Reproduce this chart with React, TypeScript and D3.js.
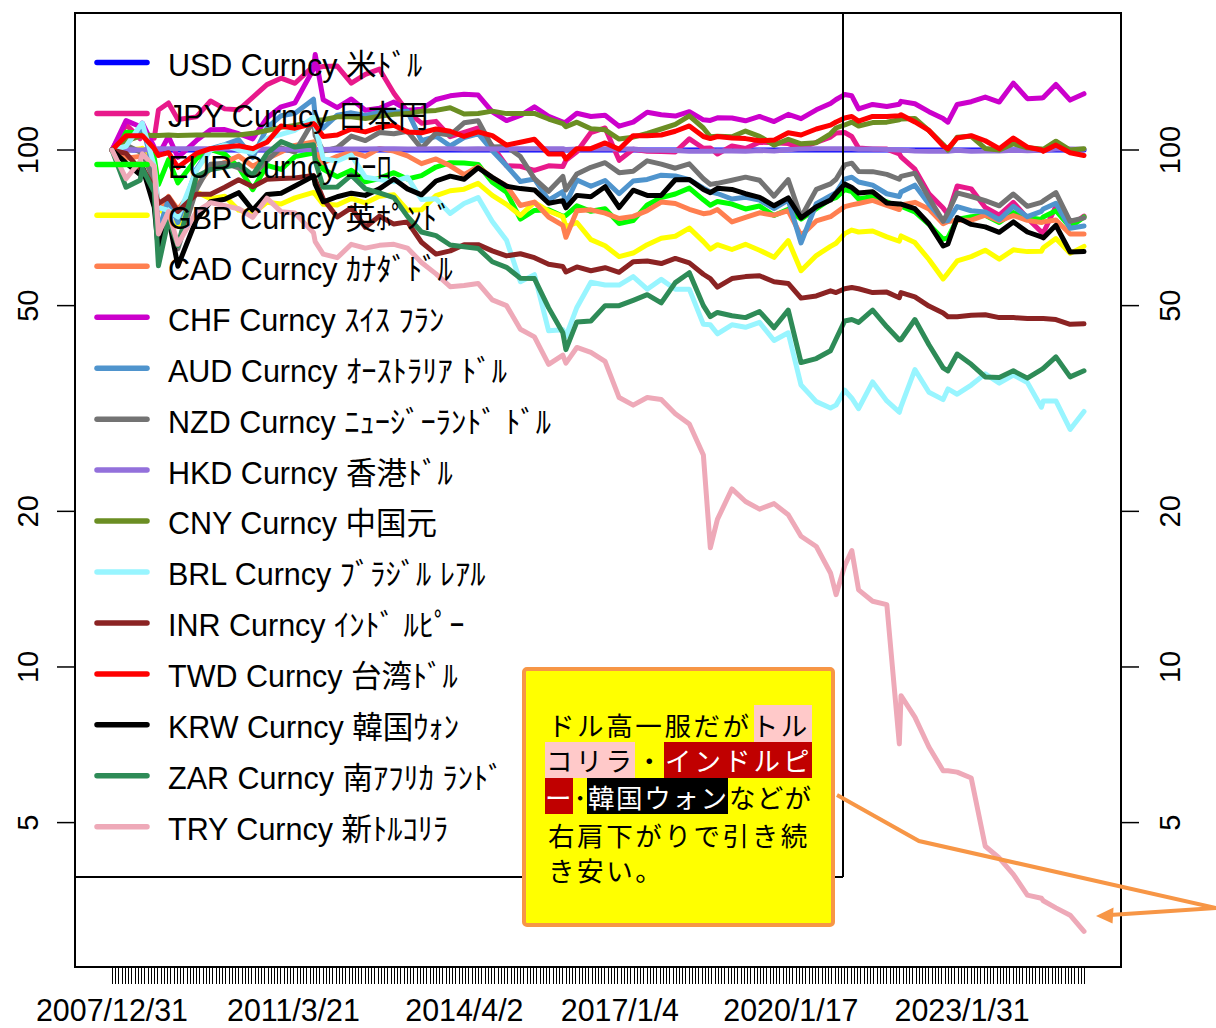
import React from "react";
import * as d3 from "d3";

const dates = [
  "2007-12-31","2008-03-31","2008-06-30","2008-07-15","2008-09-30","2008-10-27","2008-12-31","2009-03-02","2009-06-30","2009-09-30",
  "2009-12-31","2010-03-31","2010-06-30","2010-09-30","2010-12-31","2011-03-31","2011-07-29","2011-08-09","2011-09-30","2011-12-30",
  "2012-03-30","2012-06-29","2012-09-28","2012-12-31","2013-03-29","2013-06-28","2013-09-30","2013-12-31","2014-03-31","2014-06-30",
  "2014-09-30","2014-12-31","2015-03-31","2015-06-30","2015-09-30","2015-12-31","2016-01-20","2016-03-31","2016-06-30","2016-09-30",
  "2016-12-30","2017-03-31","2017-06-30","2017-09-29","2017-12-29","2018-03-30","2018-06-29","2018-08-13","2018-09-28","2018-12-31",
  "2019-03-29","2019-06-28","2019-09-30","2019-12-31","2020-03-23","2020-06-30","2020-09-30","2020-11-05","2020-12-31","2021-02-15",
  "2021-03-31","2021-06-30","2021-09-30","2021-12-20","2021-12-31","2022-03-31","2022-06-30","2022-09-30","2022-10-31","2022-12-30",
  "2023-03-31","2023-06-30","2023-09-29","2023-12-29","2024-03-29","2024-06-28","2024-07-10","2024-09-30","2024-12-31","2025-03-31"
];

const usd = [
  100,100,100,100,100,100,100,100,100,100,
  100,100,100,100,100,100,100,100,100,100,
  100,100,100,100,100,100,100,100,100,100,
  100,100,100,100,100,100,100,100,100,100,
  100,100,100,100,100,100,100,100,100,100,
  100,100,100,100,100,100,100,100,100,100,
  100,100,100,100,100,100,100,100,100,100,
  100,100,100,100,100,100,100,100,100,100
];
const jpy = [
  100,112.0,105.2,106.9,105.4,119.5,123.3,114.6,115.9,124.4,
  120.1,119.6,126.4,133.8,137.7,134.6,145.4,144.3,145.1,145.3,
  134.7,140.0,143.4,128.8,118.6,112.7,113.6,106.1,108.2,110.3,
  101.8,93.2,93.0,91.3,93.2,92.9,95.5,99.2,108.1,110.3,
  95.5,100.3,99.4,99.3,99.1,105.1,100.8,100.9,98.2,101.8,
  100.7,103.5,103.3,102.9,100.8,103.5,105.9,107.9,108.1,106.2,
  100.9,100.5,100.4,98.3,97.0,91.8,82.3,77.2,75.1,85.2,
  84.1,77.4,74.8,79.2,73.8,69.4,69.1,77.8,71.1,74.5
];
const eur = [
  100,108.2,108.0,109.3,96.6,85.7,95.8,86.4,96.2,100.3,
  98.2,92.6,83.8,93.4,91.7,97.1,98.6,98.0,91.8,88.8,
  91.4,86.8,88.1,90.4,87.9,89.2,92.7,94.5,94.4,93.8,
  86.6,82.9,73.5,76.4,76.6,74.4,74.7,78.0,76.1,77.0,
  72.1,73.0,78.3,80.9,82.2,84.4,80.1,78.2,79.5,78.6,
  76.9,77.9,74.7,76.8,73.5,77.0,80.3,80.9,83.8,83.1,
  80.4,81.3,79.4,77.3,77.9,75.9,71.8,67.2,67.7,73.4,
  74.3,74.8,72.4,75.7,74.0,73.4,74.2,76.3,70.9,74.2
];
const gbp = [
  100,100,100.4,100.8,89.7,77.6,73.5,71.5,82.9,80.5,
  81.4,76.5,75.3,79.2,78.6,80.8,82.8,82.1,78.5,78.3,
  80.6,79.0,81.4,81.9,76.5,76.6,81.6,83.4,84.0,86.2,
  81.7,78.5,74.7,79.2,76.2,74.3,71.0,72.4,67.1,65.3,
  62.2,63.2,65.6,67.5,68.1,70.6,66.5,64.3,65.6,64.2,
  65.7,64.0,62.0,66.8,58.4,62.5,65.1,66.0,68.9,70.0,
  69.4,69.7,67.9,66.6,68.2,66.2,61.4,56.3,57.8,61.0,
  62.2,64.0,61.5,64.1,63.6,63.7,64.7,67.4,63.1,65.1
];
const cad = [
  100,96.4,97.2,98.5,93.0,76.7,81.3,76.7,85.1,92.4,
  94.6,97.4,93.0,96.2,99.1,102.1,103.7,100.0,94.5,97.2,
  99.2,97.2,100.7,99.5,97.4,94.1,96.1,93.2,89.6,92.8,
  88.4,85.3,78.1,79.3,74.2,71.5,67.8,76.3,76.6,75.5,
  73.7,74.4,76.3,79.3,78.8,76.8,75.3,75.6,76.7,72.6,
  74.1,75.6,74.8,76.3,68.3,72.9,74.3,75.6,77.7,78.3,
  78.8,79.9,78.1,76.7,78.3,79.2,76.9,72.0,72.7,73.1,
  73.2,74.8,72.9,74.7,73.1,72.4,72.6,73.2,68.8,68.8
];
const chf = [
  100,114.0,111.0,112.7,101.2,97.7,106.2,96.8,104.3,109.4,
  109.5,107.5,105.1,115.3,121.2,123.4,143.4,153.0,125.1,120.8,
  125.5,119.4,120.4,123.8,119.4,119.9,125.2,127.3,128.2,127.7,
  118.5,114.0,116.6,121.2,116.2,113.2,113.3,117.8,116.1,116.7,
  111.2,113.2,118.3,117.0,116.3,118.6,114.4,114.1,115.4,115.3,
  113.9,116.1,113.5,117.2,115.0,119.6,123.0,125.2,128.0,127.3,
  120.1,122.5,121.4,122.6,124.2,122.9,118.6,115.0,113.2,122.5,
  124.0,126.6,123.8,134.7,125.7,126.0,126.3,133.9,124.9,128.5
];
const aud = [
  100,104.1,109.2,111.7,90.3,69.6,80.2,72.4,91.8,100.6,
  102.4,104.7,96.7,110.3,116.5,117.8,125.4,116.3,110.3,116.8,
  118.0,116.6,118.4,118.5,118.8,104.2,106.3,101.8,105.7,107.5,
  99.7,93.2,86.9,87.9,80.0,83.1,78.7,87.5,85.1,87.3,
  82.3,87.1,87.7,89.4,89.1,87.6,84.4,83.0,82.4,80.4,
  81.0,80.0,77.0,80.0,66.1,78.7,81.6,82.7,87.8,88.6,
  86.7,85.5,82.3,81.3,82.9,85.5,78.6,73.0,73.0,77.7,
  76.3,75.9,73.3,77.8,74.3,76.1,76.9,78.9,70.6,71.3
];
const nzd = [
  100,102.3,99.1,98.8,86.9,67.6,75.4,64.4,83.9,93.9,
  94.3,92.3,89.3,95.4,101.0,99.1,114.0,106.6,99.5,101.0,
  106.4,104.3,108.1,107.5,108.7,100.7,107.9,106.9,112.9,113.9,
  101.4,101.6,97.1,88.0,83.2,88.9,83.7,89.9,92.6,94.5,
  90.4,91.0,95.3,93.9,92.2,94.0,88.0,85.8,86.2,87.4,
  88.6,87.4,81.4,87.6,74.1,83.9,86.0,87.8,93.6,94.3,
  90.9,90.8,89.7,87.8,88.9,90.2,80.8,72.8,75.6,82.6,
  81.3,79.8,78.0,82.2,77.8,79.2,79.7,82.7,72.8,73.9
];
const hkd = [
  100,100.2,100.0,100.0,100.3,100.6,100.6,100.6,100.6,100.6,
  100.5,100.5,100.2,100.5,100.3,100.3,100.1,100.1,100.2,100.4,
  100.4,100.5,100.6,100.6,100.5,100.5,100.6,100.6,100.5,100.6,
  100.5,100.6,100.6,100.6,100.6,100.6,100.2,100.5,100.5,100.6,
  100.5,100.4,99.9,99.9,99.8,99.4,99.4,99.4,99.7,99.6,
  99.4,99.8,99.5,100.1,100.5,100.6,100.6,100.6,100.6,100.6,
  100.3,100.4,100.2,100.0,100.0,99.6,99.4,99.4,99.4,99.9,
  99.4,99.5,99.6,99.9,99.7,99.9,99.9,100.4,100.5,100.3
];
const cny = [
  100,104.1,106.4,106.9,106.7,106.7,106.9,106.7,106.9,106.9,
  106.9,106.9,107.7,109.1,110.6,111.5,113.4,113.9,114.4,115.9,
  115.9,115.0,116.2,117.2,117.6,118.9,119.3,120.7,117.4,117.7,
  118.9,117.6,117.7,117.7,114.8,112.5,110.9,113.2,109.9,109.4,
  105.0,105.9,107.7,109.8,112.1,116.4,110.3,106.1,106.3,106.1,
  108.8,106.3,102.2,104.9,102.8,103.3,107.5,110.3,111.8,113.2,
  111.3,113.0,113.2,114.4,114.8,115.1,109.0,102.5,100.0,105.8,
  106.3,100.7,100.0,102.8,101.0,100.4,100.3,104.0,100.0,100.6
];
const brl = [
  100,101.7,111.3,112.7,93.2,77.4,76.4,74.2,91.3,100.0,
  102.3,100.0,98.9,105.3,107.2,109.2,115.6,111.3,96.2,95.2,
  97.8,88.6,87.7,86.8,88.6,80.2,80.5,75.4,78.8,80.9,
  72.7,66.9,55.6,57.4,44.7,44.9,43.6,49.6,55.5,54.8,
  54.8,56.9,53.8,56.2,53.8,53.8,46.0,45.9,44.1,45.9,
  45.4,46.4,42.8,44.3,35.1,32.6,31.7,32.1,34.3,33.1,
  31.6,35.6,32.7,31.1,31.9,37.6,34.0,32.9,34.5,33.7,
  35.1,36.9,35.4,36.7,35.5,31.8,32.7,32.7,28.8,31.2
];
const inr = [
  100,98.5,91.6,92.5,84.0,78.8,81.1,76.1,82.1,82.1,
  84.7,87.6,84.9,87.8,88.1,88.3,89.3,87.6,80.4,74.2,
  77.3,70.9,74.5,71.9,72.6,66.3,62.9,63.8,65.6,65.6,
  63.8,62.4,63.0,61.9,60.1,59.5,58.1,59.4,58.4,59.2,
  58.0,60.8,61.0,60.3,61.7,60.5,57.5,56.4,54.3,56.4,
  56.9,57.1,55.6,55.2,51.7,52.2,53.4,53.0,53.9,54.2,
  53.9,53.0,53.1,51.8,53.0,52.0,49.9,48.4,47.6,47.6,
  47.9,48.0,47.4,47.4,47.2,47.2,47.2,47.0,46.0,46.1
];
const twd = [
  100,106.6,106.6,106.6,100.6,97.6,98.8,92.6,98.5,100.6,
  101.3,101.9,100.6,103.5,111.3,110.2,112.5,111.7,106.2,106.9,
  109.8,108.4,110.6,111.7,108.4,108.0,109.8,108.7,106.2,108.4,
  106.6,102.2,103.5,104.9,98.2,98.2,96.1,100.6,100.6,103.2,
  100.3,106.6,106.6,106.9,108.7,111.3,106.2,105.2,106.2,105.5,
  105.2,104.2,104.5,108.0,106.9,109.8,111.7,113.3,115.3,116.1,
  113.7,116.1,116.1,116.5,117.0,113.3,109.1,101.9,100.6,105.5,
  106.6,104.2,100.6,105.5,101.3,100.0,99.4,102.2,98.8,97.6
];
const krw = [
  100,94.3,89.6,92.6,77.5,64.0,74.2,59.6,73.4,79.4,
  80.3,82.7,76.5,82.0,82.5,85.2,89.0,85.9,79.4,81.2,
  82.5,81.7,84.1,87.9,84.1,81.9,87.1,89.0,87.8,92.4,
  88.5,85.1,84.2,83.7,78.9,79.8,77.3,81.7,81.2,84.9,
  77.4,83.6,81.7,81.7,87.6,87.7,83.9,82.7,84.3,83.9,
  82.3,81.0,78.0,80.8,73.9,77.7,80.0,82.5,85.9,84.6,
  82.6,83.0,79.0,78.6,78.6,77.0,72.0,65.2,65.8,74.0,
  71.8,71.0,69.3,72.6,69.4,67.9,67.6,71.5,63.5,63.6
];
const zar = [
  100,84.7,87.4,92.1,82.9,59.7,73.4,65.3,88.9,91.7,
  92.7,93.8,89.4,98.4,103.8,101.3,102.4,95.3,84.7,84.8,
  89.4,84.1,82.6,80.9,74.4,69.4,68.3,65.5,65.0,64.5,
  60.8,59.3,56.5,56.4,49.5,44.3,41.1,46.5,46.7,50.0,
  50.0,51.2,52.5,50.6,55.4,57.9,50.0,47.6,48.5,47.8,
  47.4,48.7,45.3,49.0,38.8,39.5,40.9,43.1,46.7,47.0,
  46.4,49.0,45.5,42.9,43.0,47.0,42.0,37.9,37.4,40.3,
  38.5,36.4,36.3,37.4,36.2,37.6,37.8,39.8,36.4,37.4
];
const tryv = [
  100,88.0,95.1,98.3,92.9,68.8,76.0,65.7,76.0,79.1,
  78.0,77.0,74.1,80.7,76.0,75.5,69.2,66.5,62.9,61.9,
  65.7,64.6,65.4,65.7,64.6,60.6,57.6,54.4,54.7,55.2,
  51.3,50.0,45.0,43.5,38.5,40.1,38.7,41.5,40.6,39.0,
  33.2,32.1,33.2,32.9,30.9,29.5,25.7,17.0,19.3,22.1,
  20.9,20.2,20.7,19.7,17.9,17.1,15.2,13.8,15.7,16.8,
  14.1,13.4,13.2,7.1,8.8,8.0,7.0,6.3,6.3,6.26,
  6.1,4.5,4.27,3.97,3.62,3.57,3.53,3.42,3.31,3.08
];

const seriesLabels = [
  "USD Curncy 米ﾄﾞﾙ", "JPY Curncy 日本円", "EUR Curncy ﾕｰﾛ", "GBP Curncy 英ﾎﾟﾝﾄﾞ",
  "CAD Curncy ｶﾅﾀﾞﾄﾞﾙ", "CHF Curncy ｽｲｽ ﾌﾗﾝ", "AUD Curncy ｵｰｽﾄﾗﾘｱ ﾄﾞﾙ", "NZD Curncy ﾆｭｰｼﾞｰﾗﾝﾄﾞ ﾄﾞﾙ",
  "HKD Curncy 香港ﾄﾞﾙ", "CNY Curncy 中国元", "BRL Curncy ﾌﾞﾗｼﾞﾙ ﾚｱﾙ", "INR Curncy ｲﾝﾄﾞ ﾙﾋﾟｰ",
  "TWD Curncy 台湾ﾄﾞﾙ", "KRW Curncy 韓国ｳｫﾝ", "ZAR Curncy 南ｱﾌﾘｶ ﾗﾝﾄﾞ", "TRY Curncy 新ﾄﾙｺﾘﾗ"
];
const seriesValues = [usd, jpy, eur, gbp, cad, chf, aud, nzd, hkd, cny, brl, inr, twd, krw, zar, tryv];
const seriesColors = [
  "#0000ff", "#e8198b", "#00ff00", "#ffff00", "#ff7f50", "#cc00cc", "#4f94cd", "#737373",
  "#9370db", "#6b8e23", "#98f5ff", "#8b2323", "#ff0000", "#000000", "#2e8b57", "#eea9b8"
];

const yTicks = [5, 10, 20, 50, 100];
const xTickLabels = ["2007/12/31", "2011/3/21", "2014/4/2", "2017/1/4", "2020/1/17", "2023/1/31"];

const LATIN = "'Liberation Sans', Arial, 'Noto Sans CJK JP', sans-serif";
const CJK = "'Noto Sans CJK JP', 'Noto Sans CJK SC', sans-serif";

export default function App() {
  const W = 1216, H = 1028;
  const box = { left: 75, top: 13, right: 1121, bottom: 967 };
  const legendBox = { right: 843, bottom: 877 };
  const parse = d3.timeParse("%Y-%m-%d");
  const parseLabel = d3.timeParse("%Y/%m/%d");
  const dts = dates.map((s) => parse(s) as Date);
  const x = d3.scaleTime().domain([dts[0], dts[dts.length - 1]]).range([112, 1084]);
  const y = d3.scaleLog().domain([5, 100]).range([822.6, 150]);
  const line = d3
    .line<number>()
    .x((_, i) => x(dts[i]))
    .y((v) => y(v));
  const step = 21 * 86400000;
  const xTicks = d3.range(dts[0].getTime(), dts[dts.length - 1].getTime() + 1, step);
  const legendY = (i: number) => 62.5 + 50.95 * i;

  return (
    <svg width={W} height={H} style={{ position: "absolute", left: 0, top: 0, background: "#fff" }}>
      <rect x={0} y={0} width={W} height={H} fill="#fff" />
      <g fill="none" strokeLinejoin="round" strokeLinecap="round">
        {seriesValues.map((vals, i) => (
          <path key={i} d={line(vals) || ""} stroke={seriesColors[i]} strokeWidth={5} />
        ))}
      </g>
      <rect x={box.left} y={box.top} width={box.right - box.left} height={box.bottom - box.top} fill="none" stroke="#000" strokeWidth={2} />
      <g stroke="#000" strokeWidth={1}>
        {xTicks.map((t, i) => {
          const xx = Math.round(x(new Date(t))) + 0.5;
          return <line key={i} x1={xx} x2={xx} y1={box.bottom} y2={box.bottom + 17} />;
        })}
      </g>
      <g fontFamily={LATIN} fontSize={31} fill="#000" textAnchor="middle">
        {xTickLabels.map((s) => {
          const xx = x(parseLabel(s) as Date);
          return (
            <text key={s} x={xx} y={1021} transform={`translate(${xx},0) scale(0.98,1) translate(${-xx},0)`}>
              {s}
            </text>
          );
        })}
      </g>
      <g stroke="#000" strokeWidth={1.5}>
        {yTicks.map((t) => (
          <React.Fragment key={t}>
            <line x1={box.left - 18} x2={box.left} y1={y(t)} y2={y(t)} />
            <line x1={box.right} x2={box.right + 18} y1={y(t)} y2={y(t)} />
          </React.Fragment>
        ))}
      </g>
      <g fontFamily={LATIN} fontSize={29} fill="#000" textAnchor="middle">
        {yTicks.map((t) => (
          <React.Fragment key={t}>
            <text x={38} y={y(t)} transform={`rotate(-90 38 ${y(t)})`}>{String(t)}</text>
            <text x={1180} y={y(t)} transform={`rotate(-90 1180 ${y(t)})`}>{String(t)}</text>
          </React.Fragment>
        ))}
      </g>
      <g>
        <line x1={box.left} x2={legendBox.right} y1={legendBox.bottom} y2={legendBox.bottom} stroke="#000" strokeWidth={2} />
        <line x1={legendBox.right} x2={legendBox.right} y1={box.top} y2={legendBox.bottom} stroke="#000" strokeWidth={2} />
        {seriesLabels.map((lab, i) => (
          <g key={lab}>
            <line x1={97} x2={147} y1={legendY(i)} y2={legendY(i)} stroke={seriesColors[i]} strokeWidth={5.5} strokeLinecap="round" />
            <text x={168} y={legendY(i) + 13.4} fontFamily={LATIN} fontSize={30.5} fill="#000">{lab}</text>
          </g>
        ))}
      </g>
      <g>
        <polyline points="837,795 919,841 1216,908" fill="none" stroke="#f79646" strokeWidth={4} />
        <line x1={1216} y1={908} x2={1110} y2={915} stroke="#f79646" strokeWidth={4} />
        <polygon points="1096,916 1113.5,907.5 1112.5,923.5" fill="#f79646" />
        <rect x={524} y={669} width={309} height={256} rx={3} fill="#ffff00" stroke="#f79646" strokeWidth={4} />
        <rect x={754} y={705} width={58} height={37} fill="#ffc9c9" />
        <rect x={545} y={742} width={90} height={36} fill="#ffc9c9" />
        <rect x={664} y={742} width={148} height={36} fill="#c00000" />
        <rect x={545} y={778} width={28} height={36} fill="#c00000" />
        <rect x={587} y={778} width={141} height={36} fill="#000000" />
        <g fontFamily={CJK} fontSize={26.5}>
          <text x={548} y={736} letterSpacing={2.6} fill="#000">ドル高一服だがトル</text>
          <text x={546} y={771} letterSpacing={3.2} fill="#000">コリラ</text>
          <text x={636} y={771} fill="#000">・</text>
          <text x={665} y={771} letterSpacing={3} fill="#fff">インドルピ</text>
          <text x={545} y={808} fill="#fff">ー</text>
          <text x={580} y={808} textAnchor="middle" fill="#000">･</text>
          <text x={588} y={808} letterSpacing={1.6} fill="#fff">韓国ウォン</text>
          <text x={729} y={808} letterSpacing={1.2} fill="#000">などが</text>
          <text x={548} y={846} letterSpacing={2.6} fill="#000">右肩下がりで引き続</text>
          <text x={548} y={881} letterSpacing={2.6} fill="#000">き安い。</text>
        </g>
      </g>
    </svg>
  );
}
